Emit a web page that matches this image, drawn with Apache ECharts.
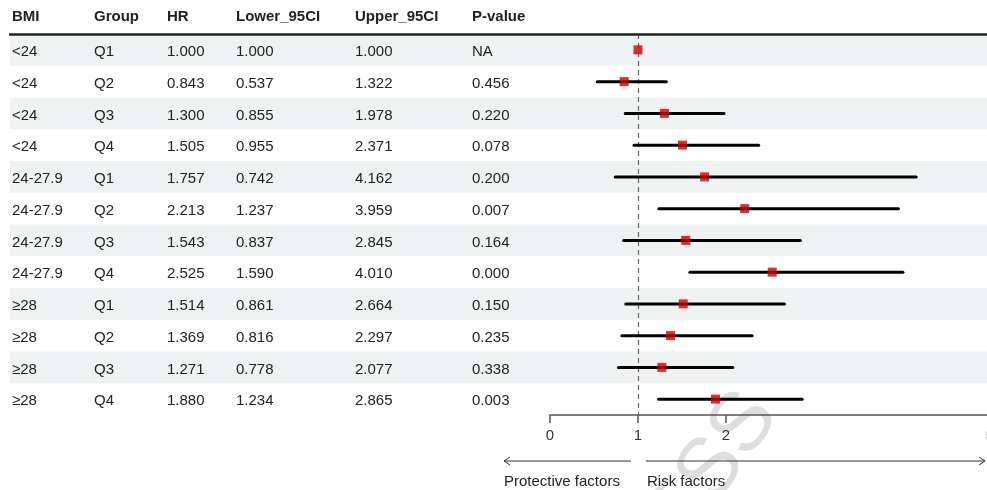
<!DOCTYPE html>
<html>
<head>
<meta charset="utf-8">
<script src="https://cdn.jsdelivr.net/npm/echarts@6/dist/echarts.min.js"></script>
<style>html,body{margin:0;padding:0;background:#fff}#c{width:987px;height:490px}</style>
</head>
<body>
<div id="c"></div>
<script>
const headers = ['BMI','Group','HR','Lower_95CI','Upper_95CI','P-value'];
const bmi = ['<24','<24','<24','<24','24-27.9','24-27.9','24-27.9','24-27.9','≥28','≥28','≥28','≥28'];
const group = ['Q1','Q2','Q3','Q4','Q1','Q2','Q3','Q4','Q1','Q2','Q3','Q4'];
const hr = [1.000,0.843,1.300,1.505,1.757,2.213,1.543,2.525,1.514,1.369,1.271,1.880];
const lower = [1.000,0.537,0.855,0.955,0.742,1.237,0.837,1.590,0.861,0.816,0.778,1.234];
const upper = [1.000,1.322,1.978,2.371,4.162,3.959,2.845,4.010,2.664,2.297,2.077,2.865];
const pval = ['NA','0.456','0.220','0.078','0.200','0.007','0.164','0.000','0.150','0.235','0.338','0.003'];
const xTicks = [0,1,2,5];
const refValue = 1;

const FONT = '"Liberation Sans", Arial, sans-serif';
const TXT = '#222';
const colX = [12, 94, 167, 236, 355, 472];
const rowIdx = bmi.map((_, i) => String(i));
const fmt = v => v.toFixed(3);

const chart = echarts.init(document.getElementById('c'), null, {renderer: 'canvas'});

const option = {
  animation: false,
  backgroundColor: '#fff',
  grid: [
    {left: 0, right: 0, top: 34, bottom: 75, containLabel: false, outerBoundsMode: 'none'},
    {left: 550, right: -3, top: 34, bottom: 75, containLabel: false, outerBoundsMode: 'none'}
  ],
  xAxis: [
    {gridIndex: 0, type: 'value', min: 0, max: 1, show: false},
    {gridIndex: 1, type: 'value', min: 0, max: 5,
      splitLine: {show: false},
      axisLine: {show: true, lineStyle: {color: '#555', width: 1.5}},
      axisTick: {show: true, length: 8, customValues: xTicks, lineStyle: {color: '#555', width: 1.5}},
      axisLabel: {customValues: xTicks, color: '#333', fontFamily: FONT, fontSize: 15, margin: 13,
        hideOverlap: false, showMaxLabel: true}
    }
  ],
  yAxis: [
    {gridIndex: 0, type: 'category', data: rowIdx, inverse: true, show: false},
    {gridIndex: 1, type: 'category', data: rowIdx, inverse: true, show: false}
  ],
  series: [
    {
      type: 'custom', xAxisIndex: 0, yAxisIndex: 0, z: 1,
      data: rowIdx.map((r, i) => [0, i]),
      clip: false,
      renderItem: function (params, api) {
        const i = api.value(1);
        const cy = api.coord([0, i])[1];
        const h = api.size([0, 1])[1];
        const children = [];
        if (i % 2 === 0) {
          children.push({type: 'rect', shape: {x: 10, y: cy - h / 2, width: 977, height: h},
            style: {fill: '#eff2f2'}, z2: 0});
        }
        const vals = [bmi[i], group[i], fmt(hr[i]), fmt(lower[i]), fmt(upper[i]), pval[i]];
        vals.forEach((t, k) => {
          children.push({type: 'text', x: colX[k], y: cy + 2, z2: 5,
            style: {text: t, fill: TXT, font: '15px ' + FONT, textAlign: 'left', textVerticalAlign: 'middle'}});
        });
        return {type: 'group', children: children};
      }
    },
    {
      type: 'custom', xAxisIndex: 1, yAxisIndex: 1, z: 5,
      data: rowIdx.map((r, i) => [lower[i], upper[i], i]),
      encode: {x: [0, 1], y: 2},
      renderItem: function (params, api) {
        const i = api.value(2);
        const p1 = api.coord([api.value(0), i]);
        const p2 = api.coord([api.value(1), i]);
        return {type: 'line', shape: {x1: p1[0], y1: p1[1], x2: p2[0], y2: p2[1]},
          style: {stroke: '#000', lineWidth: 3, lineCap: 'round'}};
      }
    },
    {
      type: 'scatter', xAxisIndex: 1, yAxisIndex: 1, z: 6,
      symbol: 'rect', symbolSize: 9,
      itemStyle: {color: '#cc0000'},
      data: hr.map((v, i) => [v, i]),
      markLine: {
        silent: true, symbol: ['none', 'none'], label: {show: false},
        lineStyle: {color: '#666', type: [5, 4], width: 1.2},
        data: [{xAxis: refValue}]
      }
    }
  ],
  graphic: [
    {type: 'text', x: 712, y: 470, rotation: 0.95, z: -10, silent: true,
      style: {text: 'ESS', fill: 'rgba(200,200,200,0.6)', font: '84px ' + FONT,
        textAlign: 'center', textVerticalAlign: 'middle'}},
    ...headers.map((t, k) => ({type: 'text', x: colX[k], y: 17, z: 10,
      style: {text: t, fill: TXT, font: 'bold 15px ' + FONT, textAlign: 'left', textVerticalAlign: 'middle'}})),
    {type: 'line', z: 10, shape: {x1: 9, y1: 34.5, x2: 987, y2: 34.5}, style: {stroke: '#222', lineWidth: 2.5}},
    {type: 'line', z: 10, shape: {x1: 504, y1: 461, x2: 631, y2: 461}, style: {stroke: '#333', lineWidth: 1}},
    {type: 'polyline', z: 10, shape: {points: [[510, 457], [504, 461], [510, 465]]}, style: {stroke: '#333', fill: null, lineWidth: 1}},
    {type: 'line', z: 10, shape: {x1: 646, y1: 461, x2: 985, y2: 461}, style: {stroke: '#333', lineWidth: 1}},
    {type: 'polyline', z: 10, shape: {points: [[979, 457], [985, 461], [979, 465]]}, style: {stroke: '#333', fill: null, lineWidth: 1}},
    {type: 'text', x: 504, y: 482, z: 10, style: {text: 'Protective factors', fill: TXT, font: '15px ' + FONT, textAlign: 'left', textVerticalAlign: 'middle'}},
    {type: 'text', x: 647, y: 482, z: 10, style: {text: 'Risk factors', fill: TXT, font: '15px ' + FONT, textAlign: 'left', textVerticalAlign: 'middle'}}
  ]
};
chart.setOption(option);
</script>
</body>
</html>
